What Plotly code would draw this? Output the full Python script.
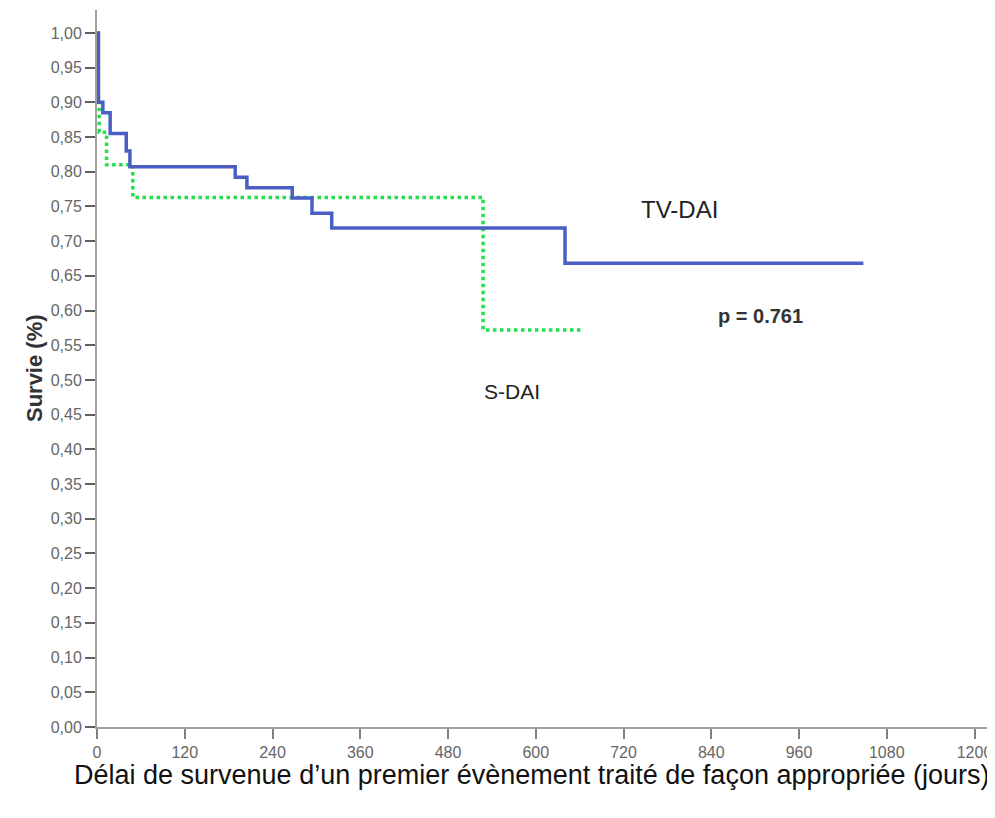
import plotly.graph_objects as go

# TV-DAI (blue, solid)
tv_days = [0, 2, 8, 18, 40, 45, 189, 205, 267, 294, 321, 640, 1048]
tv_surv = [1.00, 0.90, 0.885, 0.855, 0.83, 0.807, 0.792, 0.777, 0.762, 0.74, 0.719, 0.668, 0.668]

# S-DAI (green, dotted)
s_days = [0, 1, 2, 3, 13, 49, 528, 663]
s_surv = [1.00, 0.952, 0.905, 0.857, 0.81, 0.763, 0.572, 0.572]

x_ticks = [0, 120, 240, 360, 480, 600, 720, 840, 960, 1080, 1200]
y_ticks = [i / 20 for i in range(21)]

font = "Liberation Sans, Arial, sans-serif"

fig = go.Figure()
fig.add_trace(go.Scatter(x=s_days, y=s_surv, mode="lines", line_shape="hv",
                         line=dict(color="#22dd4e", width=3.5, dash="3.5px,3.5px"),
                         name="S-DAI", showlegend=False))
fig.add_trace(go.Scatter(x=tv_days, y=tv_surv, mode="lines", line_shape="hv",
                         line=dict(color="#4a5ec4", width=3.5),
                         name="TV-DAI", showlegend=False))

fig.update_layout(
    width=987, height=810,
    margin=dict(l=89, r=0, t=2, b=91),
    plot_bgcolor="white", paper_bgcolor="white",
    separators=", ",
    font=dict(family=font, color="#666", size=16),
    xaxis=dict(range=[0, 1228], tickvals=x_ticks, showgrid=False, zeroline=False,
               showline=True, linecolor="#a0a0a0", linewidth=2, automargin=False,
               ticks="outside", ticklen=10, tickcolor="#808080", tickwidth=1.5,
               tickfont=dict(size=16, color="#666")),
    yaxis=dict(range=[0, 1.033], tickvals=y_ticks, tickformat=".2f", showgrid=False,
               zeroline=False, showline=True, linecolor="#a0a0a0", linewidth=2,
               automargin=False,
               ticks="outside", ticklen=10, tickcolor="#606060", tickwidth=1.5,
               tickfont=dict(size=16, color="#666")),
)

fig.add_annotation(xref="paper", yref="paper", x=-0.0857, y=0.50, textangle=-90,
                   text="<b>Survie (%)</b>", showarrow=False,
                   font=dict(size=22, color="#333", family=font))
fig.add_annotation(xref="paper", yref="paper", x=-0.0278, y=-0.067, xanchor="left", yanchor="middle",
                   text="Délai de survenue d’un premier évènement traité de façon appropriée (jours)",
                   showarrow=False, font=dict(size=27, color="#111", family=font))
fig.add_annotation(x=797, y=0.746, text="TV-DAI", showarrow=False,
                   font=dict(size=24, color="#222", family=font))
fig.add_annotation(x=568, y=0.483, text="S-DAI", showarrow=False,
                   font=dict(size=21, color="#222", family=font))
fig.add_annotation(x=908, y=0.592, text="<b>p = 0.761</b>", showarrow=False,
                   font=dict(size=20, color="#333", family=font))

fig.write_html("out.html")
